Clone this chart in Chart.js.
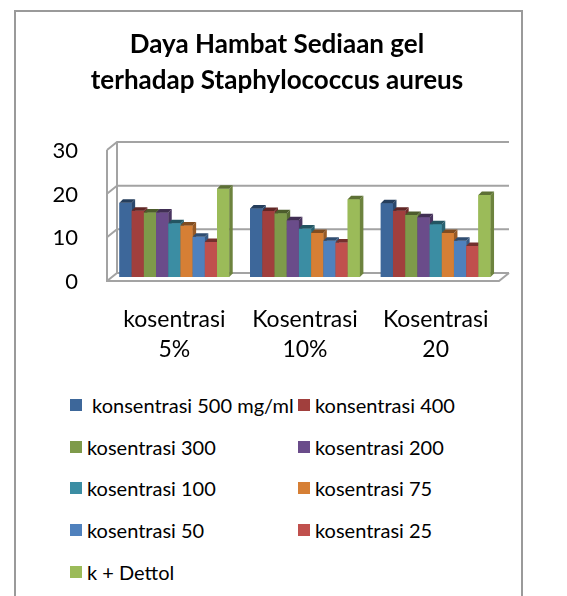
<!DOCTYPE html>
<html>
<head>
<meta charset="utf-8">
<script src="https://cdn.jsdelivr.net/npm/chart.js@4"></script>
<style>
  body { margin: 0; background: #fff; font-family: Lato, sans-serif; }
  #frame {
    position: absolute; left: 14px; top: 10px; width: 505px; height: 600px;
    border: 2px solid #9a9a9a; border-bottom: none;
  }
  #wrap { position: absolute; left: 14px; top: 10px; width: 507px; height: 362px; }
  #legend {
    position: absolute; left: 70px; top: 384px;
    display: grid; grid-template-columns: 228px 228px;
  }
  .item { height: 41.7px; display: flex; align-items: center; font-size: 20px; color: #000; white-space: pre; }
  .box { width: 12px; height: 12px; margin-right: 5px; flex: none; }
</style>
</head>
<body>
<div id="frame"></div>
<div id="wrap"><canvas id="myChart"></canvas></div>
<div id="legend"></div>
<script>
const categories = [["kosentrasi", "5%"], ["Kosentrasi", "10%"], ["Kosentrasi", "20"]];
const seriesNames = [
  " konsentrasi 500 mg/ml", "konsentrasi 400", "kosentrasi 300", "kosentrasi 200",
  "kosentrasi 100", "kosentrasi 75", "kosentrasi 50", "kosentrasi 25", "k + Dettol",
];
const k500 = [17.0, 15.7, 16.9];
const k400 = [15.2, 15.1, 15.2];
const k300 = [14.8, 14.6, 14.2];
const k200 = [14.8, 13.0, 13.7];
const k100 = [12.3, 11.1, 12.1];
const k75 = [11.8, 10.1, 10.1];
const k50 = [9.2, 8.3, 8.3];
const k25 = [8.0, 7.9, 7.1];
const dettol = [20.2, 17.8, 18.8];
const yTicks = [0, 10, 20, 30];

const seriesValues = [k500, k400, k300, k200, k100, k75, k50, k25, dettol];
const colors = ["#3d679a", "#a13f3d", "#7e9a4a", "#6a4c8a", "#3b8da3", "#d67f35", "#4f81bd", "#c0504d", "#9bbb59"];

const shade = (hex, f) => {
  const n = parseInt(hex.slice(1), 16);
  const r = Math.round(((n >> 16) & 255) * f);
  const g = Math.round(((n >> 8) & 255) * f);
  const b = Math.round((n & 255) * f);
  return `rgb(${r},${g},${b})`;
};

// no overflow padding, fixed axis sizes
const fixSize = (w, h) => (s) => {
  if (w) s.width = w;
  if (h) s.height = h;
  s.paddingLeft = s.paddingRight = s.paddingTop = s.paddingBottom = 0;
};

// back wall + floor, drawn in perspective around the bar plane
const walls = {
  id: "walls",
  beforeDatasetsDraw(chart) {
    const { ctx, chartArea } = chart;
    const y = chart.scales.y;
    const fx = -2, fy = 4, bx = 8, by = -4;
    const L = chartArea.left, R = chartArea.right;
    ctx.save();
    ctx.strokeStyle = "#a3a3a3";
    ctx.lineWidth = 2;
    ctx.beginPath();
    yTicks.forEach((v) => {
      const p = y.getPixelForValue(v);
      ctx.moveTo(L + fx, p + fy);
      ctx.lineTo(L + bx, p + by);
      ctx.lineTo(R + bx, p + by);
    });
    const top = y.getPixelForValue(yTicks[yTicks.length - 1]);
    const zero = y.getPixelForValue(0);
    ctx.moveTo(L + fx, top + fy);
    ctx.lineTo(L + fx, zero + fy);
    ctx.lineTo(R + fx, zero + fy);
    ctx.lineTo(R + bx, zero + by);
    ctx.moveTo(L + bx, top + by);
    ctx.lineTo(L + bx, zero + by);
    ctx.stroke();
    ctx.restore();
  },
};

// front, side and top faces of each bar, left to right
const bars3d = {
  id: "bars3d",
  afterDatasetsDraw(chart) {
    const { ctx } = chart;
    const d = 3.5;
    ctx.save();
    categories.forEach((c, j) => {
      chart.data.datasets.forEach((ds, i) => {
        const el = chart.getDatasetMeta(i).data[j];
        const { x, y, base, width } = el.getProps(["x", "y", "base", "width"], true);
        const l = x - width / 2, r = x + width / 2;
        ctx.fillStyle = colors[i];
        ctx.fillRect(l, y, width, base - y);
        ctx.fillStyle = shade(colors[i], 0.7);
        ctx.beginPath();
        ctx.moveTo(r, y); ctx.lineTo(r + d, y - d); ctx.lineTo(r + d, base - d); ctx.lineTo(r, base);
        ctx.fill();
        ctx.fillStyle = shade(colors[i], 0.6);
        ctx.beginPath();
        ctx.moveTo(l, y); ctx.lineTo(l + d, y - d); ctx.lineTo(r + d, y - d); ctx.lineTo(r, y);
        ctx.fill();
      });
    });
    ctx.restore();
  },
};

Chart.defaults.font.family = "Lato";
Chart.defaults.color = "#000";

const myChart = new Chart(document.getElementById("myChart"), {
  type: "bar",
  data: {
    labels: categories,
    datasets: seriesNames.map((name, i) => ({
      label: name,
      data: seriesValues[i],
      backgroundColor: colors[i],
      borderWidth: 0,
      barPercentage: 1,
      categoryPercentage: 0.84,
    })),
  },
  options: {
    responsive: true,
    maintainAspectRatio: false,
    animation: false,
    layout: { padding: { left: 39, right: 20, top: 0, bottom: 7 } },
    plugins: {
      legend: { display: false },
      tooltip: { enabled: false },
      title: {
        display: true,
        text: ["Daya Hambat Sediaan gel", "terhadap Staphylococcus aureus"],
        font: { size: 26, weight: "bold", lineHeight: 1.385 },
        color: "#000",
        padding: { top: 17, bottom: 47 },
      },
    },
    scales: {
      x: {
        grid: { display: false, drawTicks: false },
        border: { display: false },
        ticks: { padding: 28, maxRotation: 0, font: { size: 23, lineHeight: 1.3 } },
        afterFit: fixSize(0, 88),
      },
      y: {
        min: 0,
        max: 30,
        afterBuildTicks: (s) => { s.ticks = yTicks.map((v) => ({ value: v })); },
        grid: { display: false, drawTicks: false },
        border: { display: false },
        ticks: { padding: 31, labelOffset: 5, font: { size: 22 } },
        afterFit: fixSize(56, 0),
      },
    },
  },
  plugins: [walls, bars3d],
});

// legend in two columns, built from the chart's datasets
const legendEl = document.getElementById("legend");
myChart.data.datasets.forEach((ds) => {
  const item = document.createElement("div");
  item.className = "item";
  const box = document.createElement("span");
  box.className = "box";
  box.style.background = ds.backgroundColor;
  item.appendChild(box);
  item.appendChild(document.createTextNode(ds.label));
  legendEl.appendChild(item);
});
</script>
</body>
</html>
